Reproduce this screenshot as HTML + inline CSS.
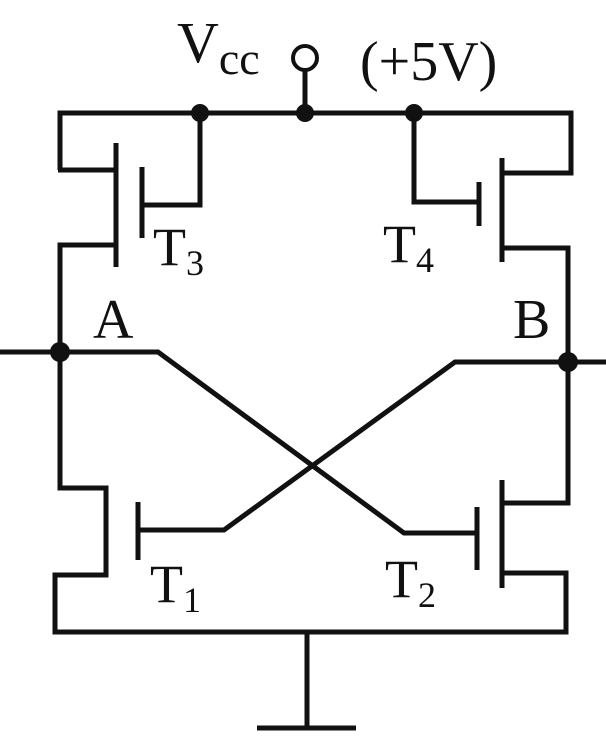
<!DOCTYPE html>
<html><head><meta charset="utf-8"><style>
html,body{margin:0;padding:0;background:#fff;}
svg{display:block;}
text{font-family:"Liberation Serif","Times New Roman",Times,serif;fill:#111;}
</style></head><body>
<svg width="606" height="752" viewBox="0 0 606 752">
<g stroke="#111" stroke-width="5" fill="none" stroke-linejoin="miter" stroke-linecap="butt">
  <path d="M60,170 L60,113 L571,113 L571,173 L502,173"/>
  <path d="M305,113 L305,70"/>
  <circle cx="305" cy="58" r="12" stroke-width="4"/>
  <path d="M58,170 L116,170"/>
  <path d="M116,143 L116,267"/>
  <path d="M142,167 L142,238"/>
  <path d="M142,205 L200,205 L200,113"/>
  <path d="M116,245 L60,245 L60,488 L106,488 L106,575 L55,575 L55,632 L566,632 L566,573 L502,573"/>
  <path d="M414,113 L414,202 L479,202"/>
  <path d="M479,182 L479,226"/>
  <path d="M502,158 L502,262"/>
  <path d="M502,248 L568,248 L568,503 L502,503"/>
  <path d="M138,502 L138,560"/>
  <path d="M138,530 L224,530 L455,362 L606,362"/>
  <path d="M502,480 L502,588"/>
  <path d="M477,507 L477,570"/>
  <path d="M477,533 L404,533 L158,352 L0,352"/>
  <path d="M307,632 L307,728"/>
  <path d="M257,728 L356,728"/>
</g>
<g fill="#111">
  <circle cx="200" cy="113" r="9"/>
  <circle cx="305" cy="113" r="9"/>
  <circle cx="414" cy="113" r="9"/>
  <circle cx="60" cy="352" r="10"/>
  <circle cx="568" cy="362" r="10"/>
</g>
<text x="177" y="62" font-size="58">V<tspan font-size="46" dy="12">cc</tspan></text>
<text x="360" y="80" font-size="56">(+5V)</text>
<text x="153" y="265" font-size="54">T<tspan font-size="36" dy="10">3</tspan></text>
<text x="383" y="262" font-size="54">T<tspan font-size="36" dy="10">4</tspan></text>
<text x="93" y="338" font-size="56">A</text>
<text x="513" y="338" font-size="56">B</text>
<text x="150" y="602" font-size="54">T<tspan font-size="36" dy="10">1</tspan></text>
<text x="385" y="597" font-size="54">T<tspan font-size="36" dy="10">2</tspan></text>
</svg>
</body></html>
